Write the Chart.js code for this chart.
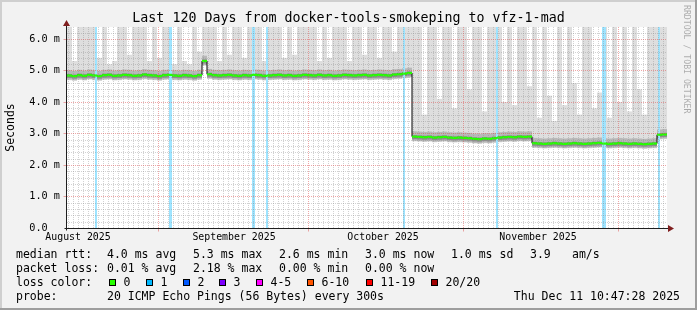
<!DOCTYPE html>
<html>
<head>
<meta charset="utf-8">
<title>smokeping vfz-1-mad</title>
<script src="https://cdn.jsdelivr.net/npm/chart.js@4.4.1/dist/chart.umd.min.js"></script>
<style>
  html, body { margin: 0; padding: 0; background: #f2f2f2; }
  .graph { width: 697px; height: 310px; }
</style>
</head>
<body>
<div class="graph"><canvas id="smoke"></canvas></div>
<script>
const TITLE = 'Last 120 Days from docker-tools-smokeping to vfz-1-mad';
const DAYS = 120;
const STEP_DAYS = 0.2;          // un paso RRD por píxel
const Y_MAX = 6.38;
const Y_TICKS = [0, 1, 2, 3, 4, 5, 6];
const MONTH_LABELS = ['August 2025', 'September 2025', 'October 2025', 'November 2025'];
const MONTH_LABEL_DAY = [2.2, 33.4, 63.2, 94.2];
const MONTH_START_DAY = [18.2, 48.2, 79.2, 110.2];

const medianMs = [
  4.84, 4.82, 4.85, 4.83, 4.86, 4.84, 4.82, 4.85, 4.86, 4.83,
  4.84, 4.86, 4.85, 4.83, 4.84, 4.87, 4.85, 4.84, 4.82, 4.85,
  4.86, 4.84, 4.83, 4.85, 4.84, 4.82, 4.85, 5.30, 4.88, 4.85,
  4.84, 4.85, 4.86, 4.84, 4.83, 4.85, 4.84, 4.86, 4.85, 4.83,
  4.84, 4.85, 4.86, 4.84, 4.85, 4.83, 4.84, 4.86, 4.85, 4.84,
  4.86, 4.84, 4.85, 4.83, 4.84, 4.86, 4.85, 4.84, 4.85, 4.86,
  4.84, 4.85, 4.86, 4.85, 4.84, 4.87, 4.88, 4.90, 4.92,
  2.90, 2.89, 2.88, 2.89, 2.87, 2.88, 2.89, 2.87, 2.86, 2.87, 2.86, 2.85,
  2.83, 2.82, 2.84, 2.83, 2.85,
  2.87, 2.88, 2.89, 2.88, 2.90, 2.89, 2.90,
  2.69, 2.68, 2.67, 2.68, 2.69, 2.68, 2.67, 2.68, 2.69, 2.68,
  2.67, 2.68, 2.69, 2.70, 2.68, 2.67, 2.68, 2.69, 2.68, 2.67,
  2.68, 2.67, 2.66, 2.67, 2.68,
  2.96, 2.97
];

const smokeTopMs = [
  6.4, 5.3, 6.4, 6.4, 6.4, 6.4, 5.4, 6.4, 5.2, 5.3,
  6.4, 6.4, 5.5, 6.4, 6.4, 6.4, 5.3, 6.4, 5.4, 6.4,
  6.4, 5.2, 6.4, 5.3, 5.2, 6.4, 5.6, 6.4, 6.4, 6.4,
  5.3, 6.4, 5.5, 6.4, 6.4, 5.4, 6.4, 6.4, 6.4, 5.3,
  6.4, 6.4, 6.4, 5.4, 6.4, 5.5, 6.4, 6.4, 6.4, 6.4,
  5.3, 6.4, 5.4, 6.4, 6.4, 6.4, 5.3, 6.4, 6.4, 5.5,
  6.4, 6.4, 5.4, 6.4, 6.4, 5.6, 6.4, 6.4, 6.4,
  6.4, 6.4, 3.6, 6.4, 6.4, 4.1, 6.4, 6.4, 3.8, 6.4, 6.4,
  4.4, 6.4, 6.4, 3.7, 6.4, 6.4, 6.4, 4.0, 6.4, 3.9, 6.4, 6.4, 4.5,
  6.4, 3.5, 6.4, 4.2, 3.4, 6.4, 3.9, 6.4, 4.6, 3.6,
  6.4, 6.4, 3.8, 4.3, 6.4, 3.5, 6.4, 4.0, 6.4, 3.7,
  6.4, 4.4, 3.6, 6.4, 6.4,
  6.4, 6.4
];

// Pérdidas: día de inicio, pasos consecutivos y pings perdidos (de 20)
const lossDay = [5.8, 20.6, 37.2, 40.0, 67.4, 86.0, 107.2, 118.4];
const lossSteps = [1, 2, 2, 1, 1, 1, 3, 1];
const lossCount = [1, 1, 1, 1, 1, 1, 1, 1];

const LOSS_LABELS = ['0', '1', '2', '3', '4-5', '6-10', '11-19', '20/20'];
const LOSS_COLORS = ['#26ff00', '#00b8ff', '#0059ff', '#7e00ff', '#ff00ff', '#ff5500', '#ff0000', '#a10000'];

const RTT_STATS = ['4.0 ms avg', '5.3 ms max', '2.6 ms min', '3.0 ms now', '1.0 ms sd'];
const AM_S = '3.9';
const LOSS_STATS = ['0.01 % avg', '2.18 % max', '0.00 % min', '0.00 % now'];
const PROBE = '20 ICMP Echo Pings (56 Bytes) every 300s';
const STAMP = 'Thu Dec 11 10:47:28 2025';

// Colores por defecto de rrdtool
const MONO = '"DejaVu Sans Mono", monospace';
const C = {
  back: '#f2f2f2', shadeA: '#cfcfcf', shadeB: '#9e9e9e',
  grid: 'rgba(143,143,143,0.4)', mgrid: 'rgba(222,79,79,0.5)',
  axis: '#1f1f1f', arrow: '#801f1f',
  smokeLight: '#dedede', smokeMid: '#b8b8b8', smokeDark: '#8c8c8c'
};

function lossColor(n) {
  if (n <= 3) return LOSS_COLORS[n];
  if (n <= 5) return LOSS_COLORS[4];
  if (n <= 10) return LOSS_COLORS[5];
  if (n <= 19) return LOSS_COLORS[6];
  return LOSS_COLORS[7];
}

// color del fondo de pérdida: el color de la leyenda aclarado sobre blanco
function tint(hex, a) {
  const n = parseInt(hex.slice(1), 16);
  const mix = c => Math.round(255 - (255 - c) * a);
  return `rgb(${mix(n >> 16)},${mix((n >> 8) & 255)},${mix(n & 255)})`;
}

const dayX = medianMs.map((_, i) => i + 0.5);
const band = (lo, hi) => dayX.map((x, i) => ({ x, y: [medianMs[i] + lo, medianMs[i] + hi] }));
const smokeLight = dayX.map((x, i) => ({ x, y: [medianMs[i] - 0.15, smokeTopMs[i]] }));

const lossPoints = [];
lossDay.forEach((d, i) => {
  for (let k = 0; k < lossSteps[i]; k++) lossPoints.push({ x: d + k * STEP_DAYS, y: [0, Y_MAX], n: lossCount[i] });
});

const framePlugin = {
  id: 'rrdFrame',
  beforeDraw(chart) {
    const { ctx, width: w, height: h, chartArea: a } = chart;
    ctx.save();
    ctx.fillStyle = C.back;
    ctx.fillRect(0, 0, w, h);
    ctx.fillStyle = '#fff';
    ctx.fillRect(a.left, a.top, a.right - a.left, a.bottom - a.top);
    ctx.fillStyle = C.shadeA;
    ctx.fillRect(0, 0, w, 2);
    ctx.fillRect(0, 0, 2, h);
    ctx.fillStyle = C.shadeB;
    ctx.fillRect(0, h - 2, w, 2);
    ctx.fillRect(w - 2, 0, 2, h);
    ctx.restore();
  }
};

const gridPlugin = {
  id: 'rrdGrid',
  afterDatasetsDraw(chart) {
    const { ctx, chartArea: a, scales: { x, y } } = chart;
    const hline = v => { const p = Math.round(y.getPixelForValue(v)) + 0.5; ctx.beginPath(); ctx.moveTo(a.left, p); ctx.lineTo(a.right, p); ctx.stroke(); };
    const vline = d => { const p = Math.round(x.getPixelForValue(d)) + 0.5; ctx.beginPath(); ctx.moveTo(p, a.top); ctx.lineTo(p, a.bottom); ctx.stroke(); };
    ctx.save();
    ctx.lineWidth = 1;
    ctx.setLineDash([1, 1]);
    ctx.strokeStyle = C.grid;
    for (let k = 1; k * 0.2 < Y_MAX; k++) if (k % 5) hline(k * 0.2);
    for (let d = MONTH_START_DAY[0] % 1; d < DAYS; d += 1) {
      if (!MONTH_START_DAY.some(m => Math.abs(m - d) < 0.01)) vline(d);
    }
    ctx.strokeStyle = C.mgrid;
    Y_TICKS.slice(1).forEach(hline);
    MONTH_START_DAY.forEach(vline);

    // ejes y flechas
    ctx.setLineDash([]);
    const x0 = a.left - 0.5, y0 = a.bottom + 0.5;
    MONTH_START_DAY.forEach(d => {
      const p = Math.round(x.getPixelForValue(d)) + 0.5;
      ctx.beginPath(); ctx.moveTo(p, y0); ctx.lineTo(p, y0 + 3); ctx.stroke();
    });
    Y_TICKS.slice(1).forEach(v => {
      const p = Math.round(y.getPixelForValue(v)) + 0.5;
      ctx.beginPath(); ctx.moveTo(x0 - 3, p); ctx.lineTo(x0, p); ctx.stroke();
    });
    ctx.strokeStyle = C.axis;
    ctx.beginPath();
    ctx.moveTo(x0 - 2, y0); ctx.lineTo(a.right + 3, y0);
    ctx.moveTo(x0, y0 + 2); ctx.lineTo(x0, a.top - 4);
    ctx.stroke();
    ctx.fillStyle = C.arrow;
    ctx.beginPath();
    ctx.moveTo(a.right + 1, y0 - 3.5); ctx.lineTo(a.right + 7, y0); ctx.lineTo(a.right + 1, y0 + 3.5); ctx.closePath();
    ctx.moveTo(x0 - 3.5, a.top - 1); ctx.lineTo(x0, a.top - 7); ctx.lineTo(x0 + 3.5, a.top - 1); ctx.closePath();
    ctx.fill();
    ctx.restore();
  }
};

const legendPlugin = {
  id: 'rrdLegend',
  afterDraw(chart) {
    const { ctx } = chart;
    const cols = [107, 193, 279, 365, 451];
    ctx.save();
    ctx.fillStyle = '#000';
    ctx.font = `11.5px ${MONO}`;
    ctx.textBaseline = 'alphabetic';
    ctx.textAlign = 'left';

    ctx.fillText('median rtt:', 16, 257.5);
    RTT_STATS.forEach((s, i) => ctx.fillText(s, cols[i], 257.5));
    ctx.fillText(AM_S, 530, 257.5);
    ctx.fillText('am/s', 572, 257.5);

    ctx.fillText('packet loss:', 16, 271.5);
    LOSS_STATS.forEach((s, i) => ctx.fillText(s, cols[i], 271.5));

    ctx.fillText('loss color:', 16, 285.5);
    const swatchX = [109, 146, 183, 219, 256, 307, 366, 431];
    LOSS_LABELS.forEach((lab, i) => {
      ctx.fillStyle = LOSS_COLORS[i];
      ctx.fillRect(swatchX[i], 279, 7, 7);
      ctx.strokeStyle = '#000';
      ctx.lineWidth = 1;
      ctx.strokeRect(swatchX[i] + 0.5, 279.5, 6, 6);
      ctx.fillStyle = '#000';
      ctx.fillText(lab, swatchX[i] + 14.5, 285.5);
    });

    ctx.fillText('probe:', 16, 299.5);
    ctx.fillText(PROBE, 107, 299.5);
    ctx.textAlign = 'right';
    ctx.fillText(STAMP, 680, 299.5);

    // marca de agua vertical
    ctx.translate(684, 5);
    ctx.rotate(Math.PI / 2);
    ctx.textAlign = 'left';
    ctx.fillStyle = 'rgba(0,0,0,0.3)';
    ctx.font = `8.2px ${MONO}`;
    ctx.fillText('RRDTOOL / TOBI OETIKER', 0, 0);
    ctx.restore();
  }
};

Chart.defaults.font.family = MONO;
Chart.defaults.color = '#000';

new Chart(document.getElementById('smoke'), {
  type: 'bar',
  data: {
    datasets: [
      { label: 'median', type: 'bar', order: 1, data: band(-0.035, 0.035), backgroundColor: LOSS_COLORS[0] },
      { label: 'median line', type: 'line', order: 2, data: dayX.map((x, i) => ({ x, y: medianMs[i] })),
        borderColor: '#000', borderWidth: 1, stepped: 'middle', pointRadius: 0 },
      { label: 'loss', type: 'bar', order: 3, data: lossPoints, barThickness: 2,
        backgroundColor: c => tint(lossColor(c.raw.n), 0.38) },
      { label: 'smoke dark', type: 'bar', order: 4, data: band(-0.08, 0.05), backgroundColor: C.smokeDark },
      { label: 'smoke mid', type: 'bar', order: 5, data: band(-0.13, 0.17), backgroundColor: C.smokeMid },
      { label: 'smoke', type: 'bar', order: 6, data: smokeLight, backgroundColor: C.smokeLight }
    ]
  },
  options: {
    responsive: true,
    maintainAspectRatio: false,
    animation: false,
    events: [],
    devicePixelRatio: 1,
    layout: { padding: 0 },
    datasets: { bar: { grouped: false, barThickness: 5, inflateAmount: 0, borderWidth: 0 } },
    plugins: {
      legend: { display: false },
      tooltip: { enabled: false },
      title: {
        display: true, text: TITLE, color: '#000',
        font: { family: MONO, size: 13.3, weight: 'normal', lineHeight: '16px' },
        padding: { top: 11, bottom: 0 }
      }
    },
    scales: {
      x: {
        type: 'linear', min: 0, max: DAYS, offset: false,
        grid: { display: false, drawTicks: false }, border: { display: false },
        afterFit: s => { s.height = 82; },
        afterBuildTicks: s => { s.ticks = MONTH_LABEL_DAY.map(v => ({ value: v })); },
        ticks: { autoSkip: false, maxRotation: 0, padding: 3, color: '#000', font: { size: 9.9 },
                 callback: (v, i) => MONTH_LABELS[i] }
      },
      y: {
        min: 0, max: Y_MAX,
        grid: { display: false, drawTicks: false }, border: { display: false },
        afterFit: s => { s.width = 67; },
        afterBuildTicks: s => { s.ticks = Y_TICKS.map(v => ({ value: v })); },
        ticks: { padding: 7, color: '#000', font: { size: 10.2 },
                 callback: v => v === 0 ? '0.0  ' : v.toFixed(1) + ' m' },
        title: { display: true, text: 'Seconds', color: '#000', font: { size: 11.5 }, padding: { top: 4, bottom: 0 } }
      },
      yr: {
        position: 'right', display: true,
        grid: { display: false, drawTicks: false }, border: { display: false },
        ticks: { display: false },
        afterFit: s => { s.width = 30; }
      }
    }
  },
  plugins: [framePlugin, gridPlugin, legendPlugin]
});
</script>
</body>
</html>
